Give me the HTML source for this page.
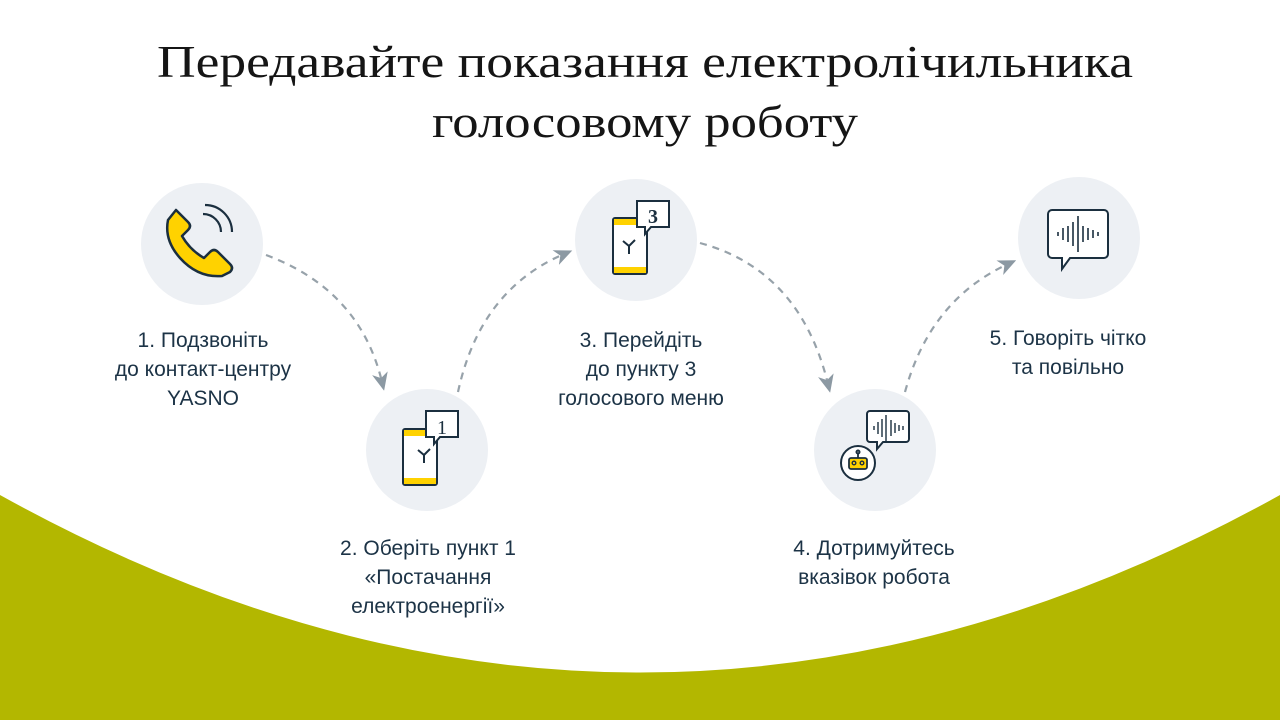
<!DOCTYPE html>
<html><head><meta charset="utf-8"><style>
html,body{margin:0;padding:0;width:1280px;height:720px;overflow:hidden;background:#fff}
svg{display:block}
.t{font-family:"Liberation Serif",serif;fill:#151515}
.l{font-family:"Liberation Sans",sans-serif;font-size:21px;fill:#1c3346;text-anchor:middle}
</style></head><body>
<svg width="1280" height="720" viewBox="0 0 1280 720" xmlns="http://www.w3.org/2000/svg">
<path d="M0,495 Q640,850 1280,495 L1280,720 L0,720 Z" fill="#b3b700"/>
<text class="t" x="157" y="77" font-size="46" textLength="976" lengthAdjust="spacingAndGlyphs">Передавайте показання електролічильника</text>
<text class="t" x="432" y="137" font-size="46" textLength="426" lengthAdjust="spacingAndGlyphs">голосовому роботу</text>

<defs><marker id="a" markerWidth="18" markerHeight="18" refX="9" refY="9" orient="auto" markerUnits="userSpaceOnUse"><path d="M0,1 L18,9 L0,17 L5,9 Z" fill="#8c99a3"/></marker></defs>
<g fill="none" stroke="#97a2aa" stroke-width="2.2" stroke-dasharray="7,6">
<path d="M266,255 Q360,290 382,382" marker-end="url(#a)"/>
<path d="M458,392 Q480,290 564,254" marker-end="url(#a)"/>
<path d="M700,243 Q800,270 828,384" marker-end="url(#a)"/>
<path d="M905,392 Q930,300 1008,264" marker-end="url(#a)"/>
</g>

<g fill="#edf0f4">
<circle cx="202" cy="244" r="61"/>
<circle cx="427" cy="450" r="61"/>
<circle cx="636" cy="240" r="61"/>
<circle cx="875" cy="450" r="61"/>
<circle cx="1079" cy="238" r="61"/>
</g>

<!-- phone -->
<path d="M176,210 L188,222 Q192,226 188,230 L182,236 Q190,250 204,258 L210,252 Q214,248 218,252 L230,264 Q234,268 230,272 L222,276 Q198,278 180,258 Q164,240 168,220 Z" fill="#ffd200" stroke="#1b2f3f" stroke-width="2.5" stroke-linejoin="round"/>
<path d="M205,205 A27,27 0 0 1 232,232 M203,214 A18,18 0 0 1 221,232" fill="none" stroke="#1b2f3f" stroke-width="2.2"/>

<!-- mobile icons -->
<g stroke="#1b2f3f" stroke-width="2">
<rect x="403" y="429" width="34" height="56" rx="2" fill="#fff"/>
<rect x="404" y="430" width="32" height="6" fill="#ffd200" stroke="none"/>
<rect x="404" y="478" width="32" height="6" fill="#ffd200" stroke="none"/>
<path d="M418,450 L424,455 L430,449 M424,455 L424,463" fill="none"/>
<path d="M426,411 h32 v26 h-18 l-6,7 v-7 h-8 z" fill="#fff"/>
<rect x="613" y="218" width="34" height="56" rx="2" fill="#fff"/>
<rect x="614" y="219" width="32" height="6" fill="#ffd200" stroke="none"/>
<rect x="614" y="267" width="32" height="6" fill="#ffd200" stroke="none"/>
<path d="M623,241 L629,246 L635,240 M629,246 L629,254" fill="none"/>
<path d="M637,201 h32 v26 h-18 l-6,7 v-7 h-8 z" fill="#fff"/>
</g>
<text x="442" y="434" font-family="Liberation Serif,serif" font-size="20" fill="#1b2f3f" text-anchor="middle">1</text>
<text x="653" y="223" font-family="Liberation Serif,serif" font-size="20" font-weight="bold" fill="#1b2f3f" text-anchor="middle">3</text>

<!-- speech 5 -->
<g stroke="#1b2f3f" stroke-width="2" fill="none">
<path d="M1052,210 h52 a4,4 0 0 1 4,4 v40 a4,4 0 0 1 -4,4 h-34 l-8,11 v-11 h-10 a4,4 0 0 1 -4,-4 v-40 a4,4 0 0 1 4,-4 z" fill="#fff"/>
<path d="M1058,232v4 M1063,228v12 M1068,226v16 M1073,222v24 M1078,216v36 M1083,226v16 M1088,228v12 M1093,230v8 M1098,232v4" stroke-width="1.6"/>
<!-- robot -->
<path d="M870,411 h36 a3,3 0 0 1 3,3 v25 a3,3 0 0 1 -3,3 h-23 l-6,7 v-7 h-7 a3,3 0 0 1 -3,-3 v-25 a3,3 0 0 1 3,-3 z" fill="#fff"/>
<path d="M874,426v4 M878,422v12 M882,419v18 M886,415v26 M891,420v16 M895,423v10 M899,425v6 M903,426v4" stroke-width="1.4"/>
<circle cx="858" cy="463" r="17" fill="#fff"/>
<rect x="849" y="458" width="18" height="11" rx="2" fill="#ffd200" stroke-width="1.8"/>
<path d="M858,458 v-5" stroke-width="1.8"/><circle cx="858" cy="452" r="1.5"/>
<circle cx="854" cy="463" r="1.8" stroke-width="1.4"/><circle cx="862" cy="463" r="1.8" stroke-width="1.4"/>
</g>

<text class="l"><tspan x="203" y="347">1. Подзвоніть</tspan><tspan x="203" y="376">до контакт-центру</tspan><tspan x="203" y="405">YASNO</tspan></text>
<text class="l"><tspan x="428" y="555">2. Оберіть пункт 1</tspan><tspan x="428" y="584">«Постачання</tspan><tspan x="428" y="613">електроенергії»</tspan></text>
<text class="l"><tspan x="641" y="347">3. Перейдіть</tspan><tspan x="641" y="376">до пункту 3</tspan><tspan x="641" y="405">голосового меню</tspan></text>
<text class="l"><tspan x="874" y="555">4. Дотримуйтесь</tspan><tspan x="874" y="584">вказівок робота</tspan></text>
<text class="l"><tspan x="1068" y="345">5. Говоріть чітко</tspan><tspan x="1068" y="374">та повільно</tspan></text>
</svg>
</body></html>
